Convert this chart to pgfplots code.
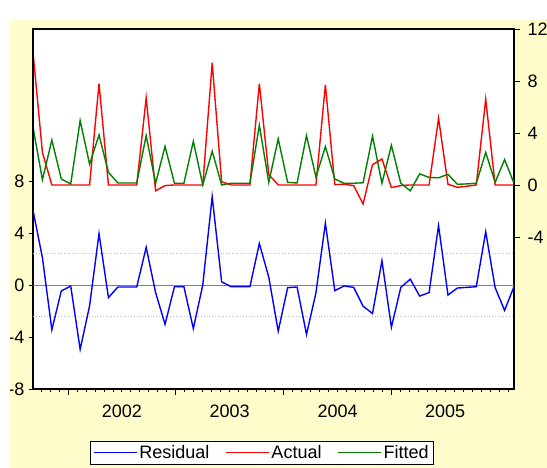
\documentclass[border=0pt]{standalone}
\usepackage{fontspec}
\setmainfont{Liberation Sans}
\usepackage{pgfplots}
\pgfplotsset{compat=1.18}
\usepackage{pgfplotstable}

\definecolor{evyellow}{RGB}{255,252,204}
\definecolor{evgreen}{RGB}{0,128,0}

% monthly observations: actual, fitted and residual
\pgfplotstableread{
i actual fitted resid
0 10.20 4.45 5.75
1 2.50 0.40 2.10
2 0.00 3.45 -3.45
3 0.00 0.46 -0.46
4 0.00 0.08 -0.08
5 0.00 4.95 -4.95
6 0.00 1.60 -1.60
7 7.80 3.85 3.95
8 0.00 0.97 -0.97
9 0.00 0.15 -0.15
10 0.00 0.15 -0.15
11 0.00 0.15 -0.15
12 6.70 3.80 2.90
13 -0.45 0.13 -0.58
14 -0.05 2.97 -3.02
15 0.00 0.13 -0.13
16 0.00 0.13 -0.13
17 0.00 3.35 -3.35
18 0.00 0.00 0.00
19 9.40 2.60 6.80
20 0.25 0.00 0.25
21 0.00 0.13 -0.13
22 0.00 0.13 -0.13
23 0.00 0.13 -0.13
24 7.80 4.60 3.20
25 0.80 0.20 0.60
26 0.00 3.55 -3.55
27 0.00 0.20 -0.20
28 0.00 0.15 -0.15
29 0.00 3.80 -3.80
30 0.00 0.60 -0.60
31 7.70 2.95 4.75
32 0.03 0.46 -0.43
33 0.05 0.12 -0.07
34 -0.05 0.13 -0.18
35 -1.46 0.17 -1.63
36 1.56 3.75 -2.19
37 2.00 0.13 1.87
38 -0.20 3.05 -3.25
39 -0.05 0.13 -0.18
40 0.00 -0.45 0.45
41 0.00 0.85 -0.85
42 0.00 0.58 -0.58
43 5.13 0.55 4.58
44 0.05 0.82 -0.77
45 -0.18 0.05 -0.23
46 -0.10 0.08 -0.18
47 0.00 0.13 -0.13
48 6.60 2.50 4.10
49 0.00 0.20 -0.20
50 0.00 1.95 -1.95
51 0.00 0.13 -0.13
}\datatable

\pgfplotsset{
  frame/.style={
    scale only axis, width=481pt, height=360pt,
    at={(33pt,79pt)}, anchor=south west,
    xmin=0, xmax=51,
    tick align=outside,
    tick style={black, line width=0.8pt},
    font=\fontsize{18}{21}\selectfont,
  },
}

\begin{document}
\begin{tikzpicture}
\useasboundingbox (0pt,0pt) rectangle (547pt,468pt);
\fill[white] (0pt,0pt) rectangle (547pt,468pt);
\begin{scope}
\clip (10pt,0pt) rectangle (547pt,448pt);
\fill[evyellow] (10pt,0pt) rectangle (547pt,448pt);

% right-hand scale: actual and fitted
\begin{axis}[frame,
  ymin=-15.7, ymax=12,
  axis background/.style={fill=white},
  axis line style={black, line width=1.1pt},
  xtick pos=left, ytick pos=right,
  ytick={-4,0,4,8,12}, yticklabels={-4,0,4,8,12},
  yticklabel style={anchor=west, inner sep=0pt, xshift=7.5pt},
  xtick={3.71,15.14,26.57,38.0}, xticklabels={},
  minor xtick={0.8525,1.805,...,51},
  major tick length=6pt, minor tick length=3.3pt,
  extra x ticks={9.43,20.86,32.29,43.71},
  extra x tick labels={2002,2003,2004,2005},
  extra x tick style={major tick length=0pt},
  xticklabel style={anchor=north, inner sep=0pt, yshift=-16pt},
]
\addplot[red, line width=1.4pt] table[x=i, y=actual] {\datatable};
\addplot[evgreen, line width=1.4pt] table[x=i, y=fitted] {\datatable};
\end{axis}

% left-hand scale: residual
\begin{axis}[frame,
  ymin=-8, ymax=19.7,
  axis x line=none, axis y line*=left,
  axis line style={black, line width=1.1pt},
  ytick={-8,-4,0,4,8}, yticklabels={-8,-4,0,4,8},
  yticklabel style={anchor=east, inner sep=0pt, xshift=-4pt},
  major tick length=4.5pt,
  legend columns=3,
  legend style={at={(0.476,-0.1444)}, anchor=north,
    draw=black, fill=white, line width=0.6pt,
    font=\fontsize{18}{21}\selectfont,
    /tikz/every even column/.append style={column sep=14pt}},
  legend image code/.code={\draw[#1, line width=1.1pt] (0pt,0pt) -- (43pt,0pt);},
]
\addplot[gray, line width=0.9pt, forget plot] coordinates {(0,0) (51,0)};
\addplot[black!25, dotted, line width=0.8pt, forget plot] coordinates {(0,2.43) (51,2.43)};
\addplot[black!25, dotted, line width=0.8pt, forget plot] coordinates {(0,-2.43) (51,-2.43)};
\addplot[blue, line width=1.4pt] table[x=i, y=resid] {\datatable};
\addlegendentry{Residual}
\addlegendimage{red}
\addlegendentry{Actual}
\addlegendimage{evgreen}
\addlegendentry{Fitted}
\end{axis}
\end{scope}
\end{tikzpicture}
\end{document}
